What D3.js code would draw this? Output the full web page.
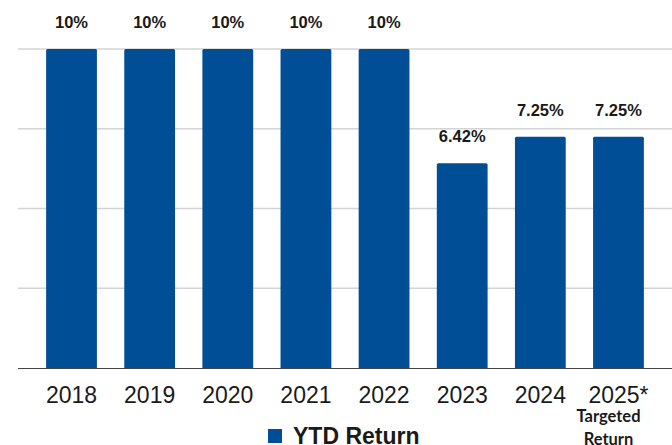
<!DOCTYPE html>
<html>
<head>
<meta charset="utf-8">
<script src="https://cdn.jsdelivr.net/npm/d3@7"></script>
<style>
  body { margin: 0; background: #fff; }
</style>
</head>
<body>
<div class="svg-container"></div>
<script>
// chart data
const years = ['2018', '2019', '2020', '2021', '2022', '2023', '2024', '2025*'];
const returns = [10, 10, 10, 10, 10, 6.42, 7.25, 7.25];
const valueLabels = ['10%', '10%', '10%', '10%', '10%', '6.42%', '7.25%', '7.25%'];
const gridTicks = [0, 2.5, 5, 7.5, 10];
const seriesName = 'YTD Return';

const width = 672, height = 445;
const barColor = '#004e96';

const data = years.map((y, i) => ({ year: y, value: returns[i], label: valueLabels[i] }));

const svg = d3.select('.svg-container')
    .append('svg')
    .attr('width', width)
    .attr('height', height);

// scales
const xScale = d3.scaleBand()
    .domain(years)
    .range([18, 672])
    .paddingInner(0.35)
    .paddingOuter(0.36);

const yScale = d3.scaleLinear()
    .domain([0, 10])
    .range([368, 49]);

// horizontal gridlines
svg.selectAll('.grid')
    .data(gridTicks.filter(t => t > 0))
    .join('line')
    .attr('class', 'grid')
    .attr('x1', 18)
    .attr('x2', width)
    .attr('y1', d => yScale(d))
    .attr('y2', d => yScale(d))
    .attr('stroke', '#d4d4d4')
    .attr('stroke-width', 1.3);

// bars
svg.selectAll('.bar')
    .data(data)
    .join('path')
    .attr('class', 'bar')
    .attr('fill', barColor)
    .attr('d', d => {
        const x0 = xScale(d.year), w = xScale.bandwidth();
        const y0 = yScale(d.value), y1 = yScale(0), r = 1.5;
        return `M${x0},${y1}V${y0 + r}Q${x0},${y0} ${x0 + r},${y0}H${x0 + w - r}Q${x0 + w},${y0} ${x0 + w},${y0 + r}V${y1}Z`;
    });

// x axis baseline
const xAxis = d3.axisBottom(xScale).tickSize(0).tickPadding(19);
svg.append('g')
    .attr('class', 'x-axis')
    .attr('transform', `translate(0, ${yScale(0)})`)
    .call(xAxis)
    .call(g => g.select('.domain').attr('d', `M18,0.5H${width}`).attr('stroke', '#444').attr('stroke-width', 1.2))
    .call(g => g.selectAll('text')
        .attr('font-family', 'Liberation Sans, Arial, sans-serif')
        .attr('font-size', 23)
        .attr('fill', '#1a1a1a'));

// value labels
svg.selectAll('.value-label')
    .data(data)
    .join('text')
    .attr('class', 'value-label')
    .attr('x', d => xScale(d.year) + xScale.bandwidth() / 2)
    .attr('y', d => yScale(d.value) - 21)
    .attr('text-anchor', 'middle')
    .attr('font-family', 'Liberation Sans, Arial, sans-serif')
    .attr('font-weight', 'bold')
    .attr('font-size', 16.5)
    .attr('fill', '#1a1a1a')
    .text(d => d.label);

// note under the last year
const lastX = xScale(years[years.length - 1]) + xScale.bandwidth() / 2 - 10;
svg.selectAll('.note')
    .data(['Targeted', 'Return'])
    .join('text')
    .attr('class', 'note')
    .attr('x', lastX)
    .attr('y', (d, i) => 422 + i * 23)
    .attr('text-anchor', 'middle')
    .attr('font-family', 'Lato, sans-serif')
    .attr('font-weight', 'bold')
    .attr('font-size', 16.5)
    .attr('fill', '#1a1a1a')
    .text(d => d);

// legend
const legend = svg.append('g').attr('transform', 'translate(268, 429)');
legend.append('rect')
    .attr('width', 14)
    .attr('height', 14)
    .attr('fill', barColor);
legend.append('text')
    .attr('x', 25)
    .attr('y', 14.5)
    .attr('font-family', 'Liberation Sans, Arial, sans-serif')
    .attr('font-weight', 'bold')
    .attr('font-size', 23)
    .attr('fill', '#1a1a1a')
    .text(seriesName);
</script>
</body>
</html>
